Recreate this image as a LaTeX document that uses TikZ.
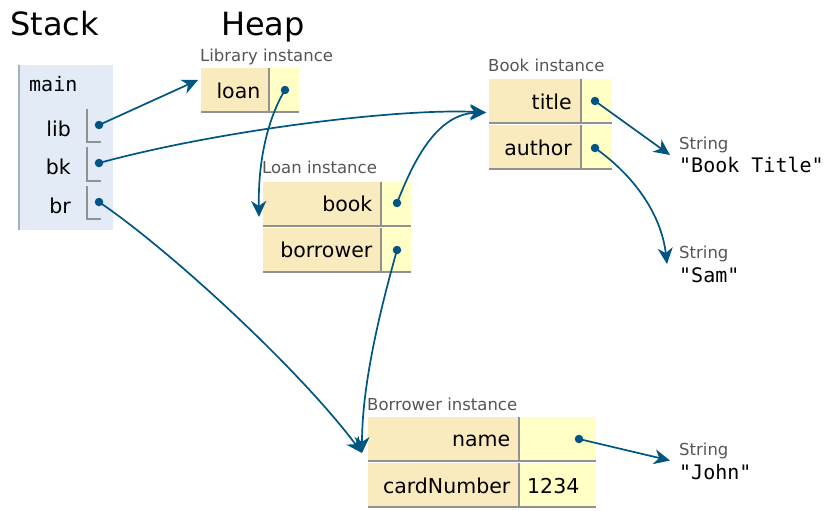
\documentclass[tikz,border=0pt]{standalone}
\usepackage{fontspec}
\setmainfont{DejaVu Sans}
\setmonofont{DejaVu Sans Mono}
\usetikzlibrary{arrows.meta}

\definecolor{keyfill}{HTML}{FAEBBF}
\definecolor{valfill}{HTML}{FFFFC6}
\definecolor{stackfill}{HTML}{E2EBF6}
\definecolor{linegray}{HTML}{919191}
\definecolor{framegray}{HTML}{A6B3B6}
\definecolor{labelgray}{HTML}{555555}
\definecolor{linkblue}{HTML}{005583}

\begin{document}
\begin{tikzpicture}[x=1pt,y=-1pt,
    title/.style={anchor=base west,inner sep=0pt,font=\fontsize{32}{38}\selectfont},
    field/.style={anchor=base east,inner sep=0pt,font=\fontsize{20.5}{24}\selectfont},
    typelabel/.style={anchor=base west,inner sep=0pt,text=labelgray,font=\fontsize{16.5}{20}\selectfont},
    strval/.style={anchor=base west,inner sep=0pt,font=\ttfamily\fontsize{20}{24}\selectfont},
    dot/.style={circle,fill=linkblue,inner sep=0pt,minimum size=8.5pt},
    link/.style={draw=linkblue,line width=1.7pt,-{Stealth[length=16pt,width=15pt,inset=5pt]}},
    cellline/.style={draw=linegray,line width=2pt}]
      \useasboundingbox (0,0) rectangle (827,511);

      \node [title] (stacktitle) at (10,36) {Stack};
      \node [title] (heaptitle) at (221,36) {Heap};

      % stack frame
      \fill [stackfill] (18,65) rectangle (113,230);
      \draw [draw=framegray,line width=2pt] (19,65) -- (19,230);
      \node [strval] (main) at (29,91.5) {main};

      \node [field] (lib) at (71,136.5) {lib};
      \draw [cellline] (87,109) -- (87,142) -- (101,142);
      \node [dot] (libdot) at (99,125) {};

      \node [field] (bk) at (71,174.5) {bk};
      \draw [cellline] (87,147) -- (87,181) -- (101,181);
      \node [dot] (bkdot) at (99,163) {};

      \node [field] (br) at (71,213) {br};
      \draw [cellline] (87,186) -- (87,219) -- (101,219);
      \node [dot] (brdot) at (99,202) {};

      % Library instance
      \node [typelabel] (libinst) at (200,62) {Library instance};
      \fill [keyfill] (201,68) rectangle (268,112);
      \fill [valfill] (268,68) rectangle (299,112);
      \draw [cellline] (201,111.5) -- (299,111.5);
      \draw [cellline] (269,68) -- (269,112.5);
      \node [field] (loan) at (260.5,99) {loan};
      \node [dot] (loandot) at (285,90) {};
      \coordinate (libraryin) at (198,80);

      % Loan instance
      \node [typelabel] (loaninst) at (262,173) {Loan instance};
      \fill [keyfill] (263,182) rectangle (381,226);
      \fill [valfill] (381,182) rectangle (411,226);
      \draw [cellline] (263,225.5) -- (411,225.5);
      \draw [cellline] (381,182) -- (381,226.5);
      \node [field] (book) at (372.5,211) {book};
      \node [dot] (bookdot) at (397,203) {};

      \fill [keyfill] (263,228) rectangle (381,272);
      \fill [valfill] (381,228) rectangle (411,272);
      \draw [cellline] (263,271.5) -- (411,271.5);
      \draw [cellline] (381,228) -- (381,272.5);
      \node [field] (borrower) at (372.5,257) {borrower};
      \node [dot] (borrowerdot) at (397,250) {};
      \coordinate (loanin) at (259,217);

      % Book instance
      \node [typelabel] (bookinst) at (488,71.5) {Book instance};
      \fill [keyfill] (489,79) rectangle (580.5,123);
      \fill [valfill] (580.5,79) rectangle (612,123);
      \draw [cellline] (489,122.5) -- (612,122.5);
      \draw [cellline] (580.5,79) -- (580.5,123.5);
      \node [field] (title) at (572,109.5) {title};
      \node [dot] (titledot) at (595,101) {};

      \fill [keyfill] (489,125) rectangle (580.5,170);
      \fill [valfill] (580.5,125) rectangle (612,170);
      \draw [cellline] (489,169) -- (612,169);
      \draw [cellline] (580.5,125) -- (580.5,170);
      \node [field] (author) at (572,155.5) {author};
      \node [dot] (authordot) at (595,148) {};
      \coordinate (bookin) at (486,112.5);

      % Borrower instance
      \node [typelabel] (borrowerinst) at (367,410) {Borrower instance};
      \fill [keyfill] (368,417) rectangle (519,461);
      \fill [valfill] (519,417) rectangle (596,461);
      \draw [cellline] (368,460.5) -- (596,460.5);
      \draw [cellline] (519,417) -- (519,461.5);
      \node [field] (name) at (510.5,446.5) {name};
      \node [dot] (namedot) at (579,439) {};

      \fill [keyfill] (368,463) rectangle (519,508);
      \fill [valfill] (519,463) rectangle (596,508);
      \draw [cellline] (368,507) -- (596,507);
      \draw [cellline] (519,463) -- (519,508);
      \node [field] (cardnumber) at (510.5,493) {cardNumber};
      \node [field,anchor=base west] (cardval) at (527,493) {1234};
      \coordinate (borrowerin) at (362,453);

      % strings
      \node [typelabel] (titletype) at (679,149) {String};
      \node [strval] (titlestr) at (679,172.5) {"Book Title"};
      \coordinate (titlein) at (670,155);

      \node [typelabel] (authortype) at (679,258) {String};
      \node [strval] (authorstr) at (679,282) {"Sam"};
      \coordinate (authorin) at (667,264);

      \node [typelabel] (nametype) at (679,455) {String};
      \node [strval] (namestr) at (679,479) {"John"};
      \coordinate (namein) at (670,460.5);

      % references
      \draw [link] (libdot.center) -- (libraryin);
      \draw [link] (loandot.center) .. controls (268,118) and (258,160) .. (loanin);
      \draw [link] (bkdot.center) .. controls (220,130) and (400,108) .. (bookin);
      \draw [link] (bookdot.center) .. controls (412,165) and (435,114) .. (bookin);
      \draw [link] (brdot.center) .. controls (170,250) and (300,370) .. (borrowerin);
      \draw [link] (borrowerdot.center) .. controls (383,300) and (362,380) .. (borrowerin);
      \draw [link] (titledot.center) -- (titlein);
      \draw [link] (authordot.center) .. controls (640,180) and (662,220) .. (authorin);
      \draw [link] (namedot.center) -- (namein);
    \end{tikzpicture}
\end{document}
